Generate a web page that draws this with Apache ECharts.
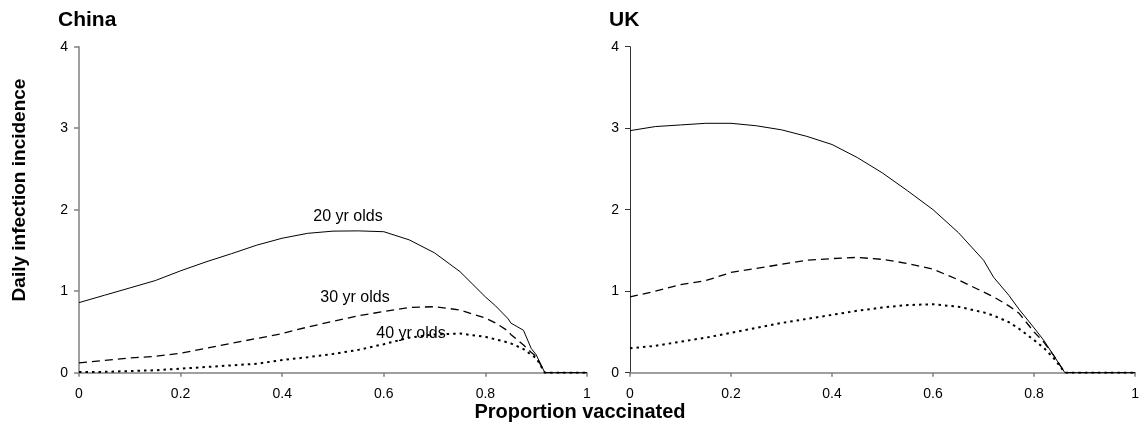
<!DOCTYPE html>
<html><head><meta charset="utf-8">
<script src="https://cdn.jsdelivr.net/npm/echarts@6/dist/echarts.min.js"></script>
<style>html,body{margin:0;padding:0;background:#fff}#c{width:1142px;height:423px}</style>
</head><body><div id="c"></div>
<script>
// ---- data ----
const chinaX = [0,0.05,0.1,0.15,0.2,0.25,0.3,0.35,0.4,0.45,0.5,0.55,0.6,0.65,0.7,0.75,0.8,0.82,0.845,0.85,0.875,0.89,0.9,0.917,0.95,1];
const china20 = [0.86,0.95,1.04,1.13,1.25,1.36,1.46,1.565,1.65,1.71,1.737,1.74,1.73,1.63,1.47,1.24,0.93,0.82,0.66,0.61,0.52,0.30,0.22,0,0,0];
const china30 = [0.12,0.15,0.18,0.20,0.24,0.30,0.36,0.42,0.48,0.56,0.63,0.70,0.75,0.80,0.81,0.77,0.67,0.61,0.51,0.47,0.34,0.25,0.20,0,0,0];
const china40 = [0.01,0.01,0.02,0.03,0.05,0.07,0.09,0.11,0.155,0.19,0.23,0.28,0.35,0.43,0.47,0.48,0.44,0.41,0.37,0.36,0.29,0.22,0.18,0,0,0];

const ukX = [0,0.05,0.1,0.15,0.2,0.25,0.3,0.35,0.4,0.45,0.5,0.55,0.6,0.65,0.7,0.72,0.75,0.77,0.8,0.82,0.84,0.861,0.9,0.95,1];
const uk20 = [2.97,3.02,3.04,3.06,3.06,3.03,2.98,2.90,2.80,2.64,2.45,2.23,2.00,1.72,1.38,1.17,0.95,0.78,0.55,0.39,0.20,0,0,0,0];
const uk30 = [0.93,1.00,1.08,1.13,1.23,1.28,1.33,1.38,1.40,1.415,1.39,1.34,1.27,1.14,0.99,0.93,0.82,0.73,0.50,0.37,0.20,0,0,0,0];
const uk40 = [0.30,0.33,0.38,0.43,0.49,0.55,0.61,0.66,0.71,0.76,0.80,0.83,0.84,0.81,0.74,0.70,0.62,0.54,0.40,0.30,0.17,0,0,0,0];

const panelTitles = ['China','UK'];
const seriesNames = ['20 yr olds','30 yr olds','40 yr olds'];
const xTitle = 'Proportion vaccinated';
const yTitle = 'Daily infection incidence';

// ---- chart ----
const FONT = 'Liberation Sans, Arial, sans-serif';
const pair = (xs, ys) => xs.map((x,i)=>[x, ys[i]]);
const styles = [
  {type:'solid', width:1},
  {type:[8,5], width:1.3},
  {type:[2.5,4], width:2}
];
function xAxis(gi){
  return {gridIndex:gi, type:'value', min:0, max:1, interval:0.2,
    axisLine:{lineStyle:{color:'#808080', width:1.5}},
    axisTick:{show:true, inside:false, length:4, lineStyle:{color:'#808080', width:1.5}},
    axisLabel:{color:'#000', fontSize:14, fontFamily:FONT, margin:14},
    splitLine:{show:false}};
}
function yAxis(gi, col, w){
  return {gridIndex:gi, type:'value', min:0, max:4, interval:1,
    axisLine:{show:true, lineStyle:{color:col, width:w}},
    axisTick:{show:true, inside:false, length:5, lineStyle:{color:col, width:w}},
    axisLabel:{color:'#000', fontSize:14, fontFamily:FONT, margin:11},
    splitLine:{show:false}};
}
function mk(gi, name, data, st){
  return {type:'line', name, xAxisIndex:gi, yAxisIndex:gi, data, symbol:'none', silent:true,
    lineStyle:{color:'#000', type:st.type, width:st.width}, animation:false};
}
const chart = echarts.init(document.getElementById('c'), null, {renderer:'canvas'});
chart.setOption({
  backgroundColor:'#fff',
  animation:false,
  grid:[
    {left:79, width:508, top:46.7, bottom:50.3},
    {left:630, width:509, top:46.7, bottom:50.3}
  ],
  xAxis:[xAxis(0), xAxis(1)],
  yAxis:[yAxis(0,'#808080',1.5), yAxis(1,'#333',1)],
  series:[
    mk(0, seriesNames[0], pair(chinaX, china20), styles[0]),
    mk(0, seriesNames[1], pair(chinaX, china30), styles[1]),
    mk(0, seriesNames[2], pair(chinaX, china40), styles[2]),
    mk(1, seriesNames[0], pair(ukX, uk20), styles[0]),
    mk(1, seriesNames[1], pair(ukX, uk30), styles[1]),
    mk(1, seriesNames[2], pair(ukX, uk40), styles[2])
  ],
  graphic:[
    {type:'text', left:58, top:10, style:{text:panelTitles[0], font:'bold 21px '+FONT, fill:'#000'}},
    {type:'text', left:609, top:10, style:{text:panelTitles[1], font:'bold 21px '+FONT, fill:'#000'}},
    {type:'text', x:348, y:216.5, style:{text:seriesNames[0], font:'16px '+FONT, fill:'#000', align:'center', verticalAlign:'middle'}},
    {type:'text', x:355, y:298, style:{text:seriesNames[1], font:'16px '+FONT, fill:'#000', align:'center', verticalAlign:'middle'}},
    {type:'text', x:411, y:334, style:{text:seriesNames[2], font:'16px '+FONT, fill:'#000', align:'center', verticalAlign:'middle'}},
    {type:'text', x:580, y:412, style:{text:xTitle, font:'bold 20px '+FONT, fill:'#000', align:'center', verticalAlign:'middle'}},
    {type:'text', x:20, y:190, rotation:Math.PI/2, style:{text:yTitle, font:'bold 19px '+FONT, fill:'#000', align:'center', verticalAlign:'middle'}}
  ]
});
</script></body></html>
